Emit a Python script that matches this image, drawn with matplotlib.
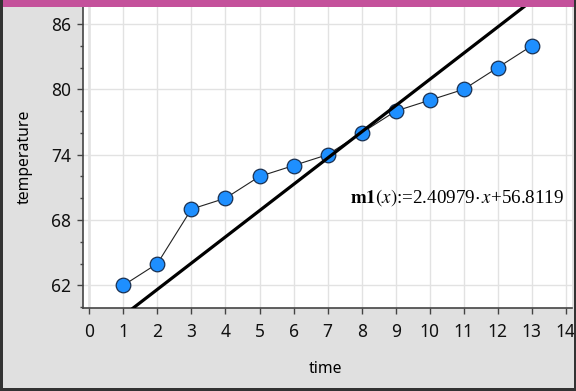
import matplotlib
matplotlib.use("Agg")
import matplotlib.pyplot as plt
from matplotlib.patches import Rectangle
from matplotlib.ticker import MultipleLocator

# data
time = [1, 2, 3, 4, 5, 6, 7, 8, 9, 10, 11, 12, 13]
temperature = [62, 64, 69, 70, 72, 73, 74, 76, 78, 79, 80, 82, 84]
slope = 2.40979
intercept = 56.8119
x_ticks = list(range(0, 15))
y_ticks = [62, 68, 74, 80, 86]

plt.rcParams["font.family"] = ["Noto Sans", "DejaVu Sans"]
plt.rcParams["mathtext.fontset"] = "stix"

W, H = 576, 391
fig = plt.figure(figsize=(W / 100, H / 100), dpi=100)
fig.patch.set_facecolor("#e0e0e0")

# plot area in pixel coordinates
left, right, top, bottom = 82.5, 572, 7, 308
ax = fig.add_axes([left / W, 1 - bottom / H, (right - left) / W, (bottom - top) / H])
ax.set_facecolor("white")

xmin, xmax = -0.2, 14.18
ymin, ymax = 59.92, 87.56
ax.set_xlim(xmin, xmax)
ax.set_ylim(ymin, ymax)

ax.set_xticks(x_ticks)
ax.set_yticks(y_ticks)
ax.yaxis.set_minor_locator(MultipleLocator(2))
ax.tick_params(axis="both", which="major", direction="out", length=4.5, width=1,
               color="#444444", labelsize=12.5, labelcolor="#111111")
ax.tick_params(axis="x", pad=6)
ax.tick_params(axis="y", pad=3.5)
ax.tick_params(axis="y", which="minor", direction="out", length=2.2, width=1, color="#444444")

for s in ["top", "right"]:
    ax.spines[s].set_visible(False)
for s in ["left", "bottom"]:
    ax.spines[s].set_color("#444444")
    ax.spines[s].set_linewidth(1.2)

ax.grid(True, which="major", color="#e2e2e2", linewidth=1, zorder=0)
ax.axvline(0, color="#8a8a8a", linewidth=1, zorder=1)

ax.plot(time, temperature, color="#222222", linewidth=0.8, marker="o",
        markersize=10.5, markerfacecolor="#1e8fff", markeredgecolor="#1a3050",
        markeredgewidth=0.9, zorder=3)

xs = [xmin, xmax]
ax.plot(xs, [slope * x + intercept for x in xs], color="black", linewidth=2.3, zorder=4)

ax.text(7.66, 70.1, r"$\mathbf{m1}(x)$:=2.40979$\cdot\,x$+56.8119",
        family="Liberation Serif", fontsize=13.7, va="center", ha="left", zorder=5)

fig.text(25 / W, 1 - 157 / H, "temperature", rotation=90, fontsize=11.3,
         ha="center", va="center")
fig.text(325 / W, 1 - 369 / H, "time", fontsize=11.3, ha="center", va="center")

# window frame
fig.patches.append(Rectangle((0, 1 - 7 / H), 1, 7 / H, transform=fig.transFigure,
                             facecolor="#c4519b", edgecolor="none", zorder=10))
fig.patches.append(Rectangle((0, 0), 2.5 / W, 1, transform=fig.transFigure,
                             facecolor="#333333", edgecolor="none", zorder=10))
fig.patches.append(Rectangle((574 / W, 0), 2 / W, 1, transform=fig.transFigure,
                             facecolor="#333333", edgecolor="none", zorder=10))
fig.patches.append(Rectangle((0, 0), 1, 3 / H, transform=fig.transFigure,
                             facecolor="#333333", edgecolor="none", zorder=10))

fig.savefig("out.png", dpi=100)
